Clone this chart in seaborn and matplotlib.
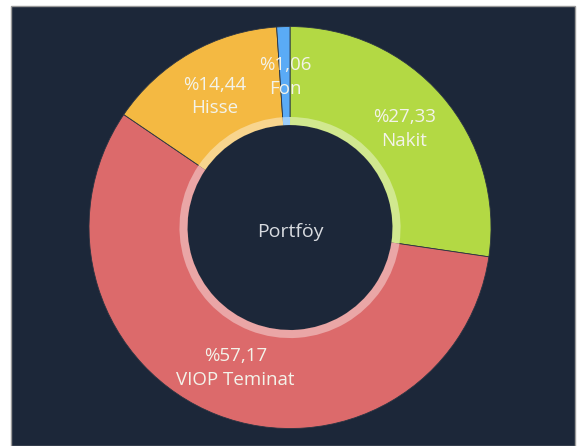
import matplotlib
matplotlib.use("Agg")
import matplotlib.pyplot as plt
import matplotlib.colors as mcolors
from matplotlib.patches import Rectangle
import numpy as np
import seaborn as sns

# data (clockwise from the top)
names = ["Nakit", "VIOP Teminat", "Hisse", "Fon"]
shares = [27.33, 57.17, 14.44, 1.06]
slice_colors = ["#b3d944", "#dc6a6b", "#f4b942", "#5aabf6"]
center_label = "Portföy"

sns.set_theme(style="dark")
plt.rcParams['font.family'] = ['Open Sans', 'DejaVu Sans']

bg = "#1c2739"
fig = plt.figure(figsize=(5.78, 4.46), dpi=100)
fig.patch.set_facecolor("white")

# dark panel with a thin grey frame
fig.patches.append(Rectangle((11 / 578, 0), (575 - 11) / 578, 1 - 6 / 446,
                             transform=fig.transFigure, facecolor=bg,
                             edgecolor="#9a9a9a", linewidth=1.0, zorder=-10))

ax = fig.add_axes([0.154, 0.0392, 0.6955, 0.9013])
ax.set_facecolor("none")

# outer ring
wedges, _ = ax.pie(shares, colors=slice_colors, startangle=90, counterclock=False,
                   radius=1.0, wedgeprops=dict(width=0.49, edgecolor="#2a3442", linewidth=0.6))

# lighter inner rim
light = [mcolors.to_hex(0.6 * np.array(mcolors.to_rgb(c)) + 0.4) for c in slice_colors]
ax.pie(shares, colors=light, startangle=90, counterclock=False,
       radius=0.55, wedgeprops=dict(width=0.04, linewidth=0))

ax.set_aspect("auto")
ax.set_xlim(-1, 1)
ax.set_ylim(-1, 1)

# labels in the middle of each slice
for w, name, val in zip(wedges, names, shares):
    mid = np.deg2rad((w.theta1 + w.theta2) / 2)
    txt = "%" + f"{val:.2f}".replace(".", ",") + "\n" + name
    ax.text(0.75 * np.cos(mid), 0.75 * np.sin(mid), txt, ha="center", va="center",
            color="#f3f3ea", fontsize=13.5, linespacing=1.38)

ax.text(0, -0.02, center_label, ha="center", va="center", color="#d8dbe0", fontsize=14)

fig.savefig("out.png", dpi=100, facecolor=fig.get_facecolor())
